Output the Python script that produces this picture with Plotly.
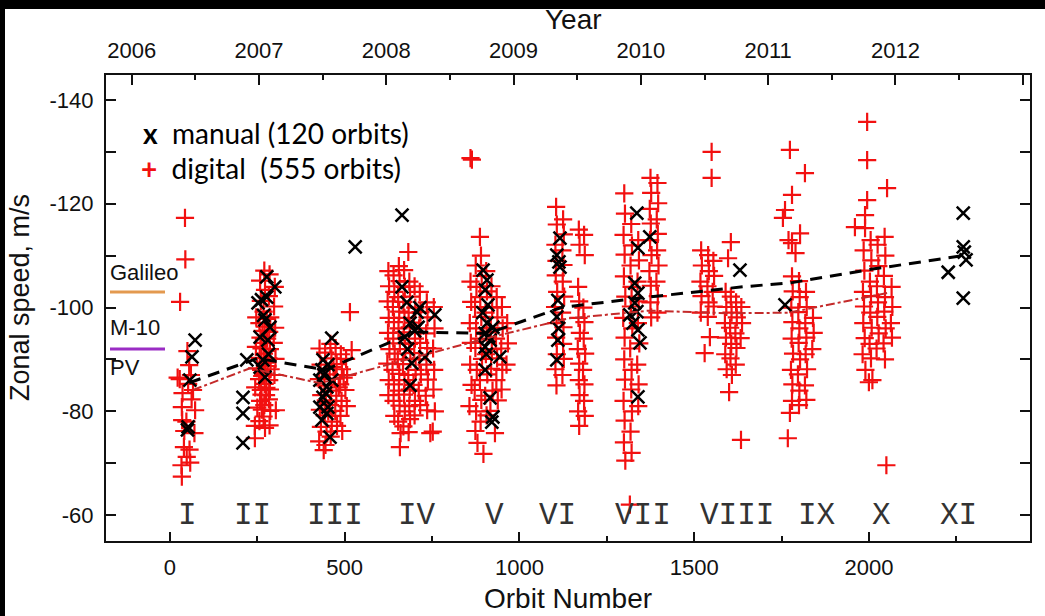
import plotly.graph_objects as go

# ---------------- data ----------------
# digital measurements (red +): orbit number, zonal speed (m/s)
digital_orbit = [
    # I
    43, 44, 29, 28, 55, 60, 36, 34, 72, 35, 70, 40, 56, 48, 58, 33, 34, 52, 22, 66, 47, 62, 50, 41,
    # II
    247, 246, 249, 244, 250, 243, 243,
    258, 260, 256, 259, 262, 257, 261, 255, 260, 258, 263, 256,
    270, 272, 268, 271, 274, 269, 273, 267, 271, 275, 270, 268, 272,
    285, 283, 287, 284, 286, 282, 288, 284, 286, 283, 287, 285,
    300, 298, 301, 297, 302, 299, 303,
    265, 278, 264, 279, 276, 262, 277,
    # III
    428, 431, 426, 433, 429, 432, 427,
    444, 447, 442, 446, 443, 448, 445, 440,
    459, 462, 457, 461, 458, 463, 460,
    474, 477, 472, 476, 473, 478,
    489, 492, 487, 491, 488, 493,
    504, 507, 502, 506,
    515, 520, 468, 483, 453, 497,
    # IV
    625, 627, 623, 626, 624, 628, 622, 626, 625,
    640, 642, 638, 641, 639, 643, 637, 641, 640, 642,
    655, 657, 653, 656, 654, 658, 652, 656, 655, 657, 653,
    670, 672, 668, 671, 669, 673, 667, 671, 670, 672, 668,
    685, 687, 683, 686, 684, 688, 682, 686, 685, 687, 683,
    700, 702, 698, 701, 699, 703, 697, 701, 700,
    715, 717, 713, 716, 714, 718, 712, 716,
    735, 737, 733, 736, 734, 738, 732, 736,
    755, 757, 753, 756, 754, 758, 752,
    682, 660, 658, 745,
    # V
    860, 864, 887,
    860, 862, 858, 861, 859, 863, 857,
    875, 877, 873, 876, 874, 878, 872, 876, 874,
    890, 892, 888, 891, 889, 893, 887, 891, 889,
    905, 907, 903, 906, 904, 908, 902, 906,
    920, 922, 918, 921, 919, 923, 917,
    935, 937, 933, 936, 934, 938,
    950, 952, 948, 951, 949,
    965, 967, 963,
    880, 930, 897,
    # VI
    1105, 1107, 1103, 1106, 1104, 1108, 1102, 1106, 1105, 1107, 1103, 1106,
    1125, 1127, 1123, 1126, 1124, 1128, 1122, 1126, 1125, 1127, 1123,
    1170, 1172, 1168, 1171, 1169, 1173, 1167, 1171, 1170, 1172, 1168, 1171,
    1185, 1187, 1183, 1186, 1184, 1188, 1182, 1186, 1185, 1187,
    # VII
    1300, 1302, 1298, 1301, 1299, 1303, 1297, 1301, 1300, 1302, 1298, 1301, 1299, 1303,
    1320, 1322, 1318, 1321, 1319, 1323, 1317, 1321, 1320, 1322, 1318, 1321,
    1340, 1342, 1338, 1341, 1339, 1343, 1337, 1341, 1340,
    1375, 1377, 1373, 1376, 1374, 1378, 1372, 1376, 1375, 1377,
    1395, 1397, 1393, 1396, 1394, 1398, 1392, 1396, 1395,
    1316,
    # VIII
    1550, 1550,
    1520, 1522, 1518, 1521, 1519,
    1540, 1542, 1538, 1541, 1539,
    1555, 1557, 1553, 1556,
    1545, 1530,
    1590, 1592, 1588, 1591, 1589, 1593,
    1605, 1607, 1603, 1606, 1604, 1608,
    1620, 1622, 1618, 1621, 1619,
    1635, 1637, 1633,
    1605, 1597, 1600, 1634,
    # IX
    1774, 1817, 1780, 1760, 1754, 1803, 1780, 1790, 1770,
    1780, 1782, 1778, 1781, 1779, 1783, 1777, 1781, 1780,
    1800, 1802, 1798, 1801, 1799, 1803, 1797, 1801, 1800,
    1820, 1822, 1818, 1821, 1819, 1823, 1817, 1821,
    1840, 1842, 1838,
    1774, 1768,
    # X
    1995, 1995, 2052, 1995, 1989, 1960, 1989,
    1985, 1987, 1983, 1986, 1984, 1988, 1982,
    2005, 2007, 2003, 2006, 2004, 2008, 2002, 2006,
    2025, 2027, 2023, 2026, 2024, 2028, 2022,
    2045, 2047, 2043, 2046, 2044, 2048, 2042, 2046,
    2065, 2067, 2063, 2066,
    2000, 2050, 1990, 2010,
]
digital_speed = [
    # I
    -117.3, -109.3, -101.1, -86.2, -88.9, -87.0, -83.5, -80.8, -80.2, -78.3, -75.8, -73.1, -72.6, -71.2,
    -70.1, -69.6, -67.4, -85.3, -86.5, -84.1, -78.0, -82.3, -91.6, -76.2,
    # II
    -98.1, -92.4, -88.3, -84.6, -80.7, -77.2, -74.8,
    -105.2, -101.3, -97.0, -94.2, -92.1, -90.3, -88.0, -86.2, -84.1, -82.0, -80.3, -78.1,
    -107.1, -103.4, -99.2, -96.3, -93.2, -91.1, -89.4, -87.2, -85.3, -83.1, -81.2, -79.0, -76.8,
    -106.4, -102.2, -98.1, -95.3, -92.0, -90.2, -88.1, -86.0, -84.2, -82.3, -80.1, -77.3,
    -104.0, -100.2, -96.1, -93.2, -90.1, -87.0, -80.2,
    -95.5, -94.0, -86.8, -88.7, -84.5, -83.2, -97.8,
    # III
    -92.1, -89.0, -86.2, -83.1, -80.3, -77.0, -74.2,
    -91.3, -88.2, -85.0, -82.1, -79.2, -76.1, -73.5, -72.5,
    -93.0, -90.2, -87.1, -84.0, -81.2, -78.0, -75.1,
    -92.2, -89.1, -86.3, -83.0, -80.1, -77.2,
    -91.0, -88.1, -85.2, -82.0, -79.1, -76.2,
    -90.1, -87.0, -84.1, -81.0,
    -99.1, -91.8, -88.5, -84.6, -80.0, -86.5,
    # IV
    -107.0, -104.1, -101.2, -98.0, -95.1, -92.0, -89.2, -86.0, -83.1,
    -106.2, -103.0, -100.1, -97.2, -94.0, -91.1, -88.0, -85.2, -82.0, -79.1,
    -108.0, -105.1, -102.0, -99.2, -96.0, -93.1, -90.0, -87.2, -84.0, -81.1, -78.0,
    -107.2, -104.0, -101.1, -98.0, -95.2, -92.0, -89.1, -86.0, -83.2, -80.0, -77.1,
    -105.0, -102.1, -99.0, -96.2, -93.0, -90.1, -87.0, -84.2, -81.0, -78.5, -76.0,
    -104.1, -100.0, -97.1, -94.0, -91.2, -88.0, -85.1, -82.0, -79.2,
    -103.0, -99.1, -96.0, -93.2, -90.0, -87.1, -84.0, -81.2,
    -101.0, -98.1, -95.0, -92.2, -89.0, -86.1, -83.0, -80.2,
    -100.1, -96.0, -92.1, -88.0, -84.2, -80.0, -76.1,
    -110.7, -75.8, -73.1, -75.8,
    # V
    -128.8, -128.5, -113.6,
    -105.0, -101.1, -97.0, -93.2, -89.0, -85.1, -81.0,
    -108.1, -104.0, -100.1, -96.0, -92.2, -88.0, -84.1, -80.0, -76.2,
    -110.0, -106.1, -102.0, -98.2, -94.0, -90.1, -86.0, -82.2, -78.0,
    -107.0, -103.1, -99.0, -95.2, -91.0, -87.1, -83.0, -79.2,
    -104.1, -100.0, -96.1, -92.0, -88.2, -84.0, -80.1,
    -102.0, -98.1, -94.0, -90.2, -86.0, -82.1,
    -100.1, -96.0, -92.1, -88.0, -84.2,
    -97.0, -93.1, -89.0,
    -73.9, -75.8, -71.8,
    # VI
    -119.4, -116.0, -112.1, -109.0, -106.2, -103.0, -100.1, -97.0, -94.2, -91.0, -88.1, -85.0,
    -117.0, -114.1, -111.0, -108.2, -105.0, -102.1, -99.0, -96.2, -93.0, -90.1, -87.0,
    -115.0, -112.1, -104.0, -101.2, -98.0, -95.1, -92.0, -89.2, -86.0, -83.1, -80.0, -77.2,
    -114.0, -110.1, -100.0, -97.2, -94.0, -91.1, -88.0, -85.2, -82.0, -79.1,
    # VII
    -122.0, -118.1, -114.0, -110.2, -106.0, -102.1, -98.0, -94.2, -90.0, -86.1, -82.0, -78.2, -74.0, -70.5,
    -116.1, -112.0, -108.1, -104.0, -100.2, -96.0, -92.1, -88.0, -84.2, -80.0, -76.1, -72.0,
    -113.0, -109.1, -105.0, -101.2, -97.0, -93.1, -89.0, -85.2, -81.0,
    -125.0, -122.1, -119.0, -116.2, -113.0, -110.1, -107.0, -104.2, -101.0, -98.1,
    -124.0, -120.1, -117.0, -114.2, -111.0, -108.1, -105.0, -102.2, -99.0,
    -62.0,
    # VIII
    -130.0, -125.0,
    -111.0, -108.1, -105.0, -102.2, -99.0,
    -110.1, -107.0, -104.1, -101.0, -98.2,
    -109.0, -106.1, -103.0, -100.2,
    -94.3, -91.2,
    -103.0, -100.1, -97.0, -94.2, -91.0, -88.1,
    -102.1, -99.0, -96.1, -93.0, -90.2, -87.0,
    -101.0, -98.1, -95.0, -92.2, -89.0,
    -100.1, -97.0, -94.1,
    -112.6, -109.5, -83.7, -74.5,
    # IX
    -130.4, -125.9, -121.7, -118.8, -117.3, -114.3, -112.4, -110.5, -113.0,
    -106.0, -103.1, -100.0, -97.2, -94.0, -91.1, -88.0, -85.2, -82.0,
    -105.1, -102.0, -99.1, -96.0, -93.2, -90.0, -87.1, -84.0, -81.2,
    -103.0, -100.1, -97.0, -94.2, -91.0, -88.1, -85.0, -82.2,
    -98.0, -95.1, -92.0,
    -79.7, -74.8,
    # X
    -135.8, -128.4, -123.0, -120.7, -117.8, -115.5, -115.3,
    -111.0, -107.1, -103.0, -100.2, -97.0, -94.1, -91.0,
    -113.0, -109.1, -105.0, -102.2, -99.0, -96.1, -93.0, -90.2,
    -112.1, -108.0, -104.1, -101.0, -98.2, -95.0, -92.1,
    -113.6, -110.0, -106.1, -102.0, -99.2, -96.0, -93.1, -90.0,
    -104.0, -100.1, -97.0, -94.2,
    -85.6, -69.6, -88.0, -86.0,
]

# manual measurements (black x)
manual_orbit = [
    72, 63, 57, 52, 50,
    209, 209, 209, 220, 277, 300, 252, 277, 272, 258, 280, 258, 272, 266, 286, 262, 268, 282,
    463, 438, 435, 429, 449, 438, 429, 449, 435, 458, 452, 463, 452, 530, 445, 440,
    664, 664, 678, 707, 758, 687, 710, 672, 692, 730, 687, 700, 680, 715,
    896, 907, 902, 910, 907, 924, 902, 916, 902, 944, 902, 916, 924, 921, 895, 912, 905,
    1116, 1107, 1116, 1110, 1107, 1110, 1107, 1113, 1112,
    1336, 1373, 1339, 1330, 1339, 1330, 1336, 1316, 1339, 1345, 1339, 1325,
    1631,
    1760,
    2227, 2270, 2270, 2273, 2278, 2270,
]
manual_speed = [
    -93.7, -90.5, -86.0, -77.0, -76.4,
    -82.7, -79.6, -73.9, -89.9, -105.9, -104.0, -100.9, -102.0, -97.6, -94.3, -93.7, -88.5, -86.6, -89.9,
    -96.2, -101.5, -98.5, -91.0,
    -94.1, -89.9, -88.0, -86.0, -84.7, -82.7, -80.8, -79.6, -78.3, -75.0, -89.0, -86.0, -80.8, -111.7,
    -83.5, -87.0,
    -117.8, -104.0, -101.0, -99.1, -98.6, -97.0, -96.2, -94.3, -89.3, -90.5, -85.0, -95.5, -92.0, -100.0,
    -107.2, -105.3, -103.4, -100.5, -97.0, -96.2, -95.0, -93.7, -92.4, -90.5, -88.0, -82.6, -78.9, -77.9,
    -99.0, -94.5, -91.0,
    -113.4, -110.1, -107.8, -101.4, -98.2, -93.7, -89.9, -108.8, -96.0,
    -118.2, -113.6, -111.5, -104.7, -102.8, -100.9, -99.2, -98.6, -95.7, -93.2, -82.8, -97.0,
    -107.2,
    -100.5,
    -106.8, -118.2, -111.7, -110.7, -109.2, -101.8,
]

# mean trend lines
manual_mean_orbit = [55, 250, 444, 700, 910, 1120, 1340, 1640, 1780, 2000, 2270]
manual_mean_speed = [-85.5, -90.2, -88.0, -95.3, -95.0, -100.0, -101.8, -104.0, -104.8, -107.3, -110.0]
digital_mean_orbit = [66, 229, 430, 700, 920, 1140, 1370, 1600, 1770, 2052]
digital_mean_speed = [-84.1, -88.3, -85.4, -90.4, -94.3, -97.9, -99.4, -98.9, -99.0, -102.8]

# observation periods (roman numerals)
period_labels = ["I", "II", "III", "IV", "V", "VI", "VII", "VIII", "IX", "X", "XI"]
period_orbit = [49, 235, 472, 707, 930, 1108, 1354, 1623, 1852, 2035, 2255]

# reference speeds from earlier missions
ref_speed = [-103.0, -92.0]
ref_colors = ["#e3994f", "#9a2cc4"]

x_ticks = [0, 500, 1000, 1500, 2000]
y_ticks = [-140, -120, -100, -80, -60]
year_ticks = [2006, 2007, 2008, 2009, 2010, 2011, 2012, 2013]

# ---------------- layout geometry ----------------
W, H = 1045, 616
ML, MR, MT, MB = 106, 15, 75, 75
PW, PH = W - ML - MR, H - MT - MB


def px_x(px):
    return (px - ML) / PW


def px_y(py):
    return (H - MB - py) / PH


SANS = "Liberation Sans"
AX_FONT = dict(family=SANS, size=22, color="#111")

fig = go.Figure()

fig.add_trace(go.Scatter(
    x=digital_orbit, y=digital_speed, mode="markers", showlegend=False,
    marker=dict(symbol="cross-thin", size=13, line=dict(width=2.2, color="#f21010")),
    hoverinfo="skip"))
fig.add_trace(go.Scatter(
    x=manual_orbit, y=manual_speed, mode="markers", showlegend=False,
    marker=dict(symbol="x-thin", size=13, line=dict(width=2.5, color="#000")),
    hoverinfo="skip"))
fig.add_trace(go.Scatter(
    x=digital_mean_orbit, y=digital_mean_speed, mode="lines", showlegend=False,
    line=dict(color="#c42a2a", width=2, dash="dashdot"), hoverinfo="skip"))
fig.add_trace(go.Scatter(
    x=manual_mean_orbit, y=manual_mean_speed, mode="lines", showlegend=False,
    line=dict(color="#000", width=3, dash="12px,8px"), hoverinfo="skip"))
# invisible trace to activate the top (year) axis
fig.add_trace(go.Scatter(x=[year_ticks[0]], y=[-100], xaxis="x2", mode="markers",
                         marker=dict(opacity=0), showlegend=False, hoverinfo="skip"))

# reference lines (Galileo / M-10 / PV)
for sp, col in zip(ref_speed, ref_colors):
    fig.add_shape(type="line", xref="paper", yref="y", x0=px_x(110), x1=px_x(165),
                  y0=sp, y1=sp, line=dict(color=col, width=3))

annotations = []
for lab, xo in zip(period_labels, period_orbit):
    annotations.append(dict(x=xo, y=-60, xref="x", yref="y", text=lab, showarrow=False,
                            font=dict(family="Liberation Mono", size=31, color="#333",
                                      weight=300),
                            xanchor="center", yanchor="middle"))

for txt, py in [("Galileo", 272), ("M-10", 327), ("PV", 367)]:
    annotations.append(dict(x=px_x(108), y=px_y(py), xref="paper", yref="paper", text=txt,
                            showarrow=False, xanchor="left", yanchor="middle",
                            font=dict(family=SANS, size=22, color="#111")))

LEG_FONT = dict(family="Lato", size=28, color="#000")
annotations.append(dict(x=px_x(141), y=px_y(133), xref="paper", yref="paper",
                        text="<b>x</b>  manual (120 orbits)", showarrow=False,
                        xanchor="left", yanchor="middle", font=LEG_FONT))
annotations.append(dict(x=px_x(139), y=px_y(168), xref="paper", yref="paper",
                        text="<span style='color:#f21010'><b>+</b></span>  digital  (555 orbits)",
                        showarrow=False, xanchor="left", yanchor="middle", font=LEG_FONT))

# axis titles
TITLE_FONT = dict(family=SANS, size=28, color="#111")
annotations.append(dict(x=px_x(573), y=px_y(19), xref="paper", yref="paper", text="Year",
                        showarrow=False, xanchor="center", yanchor="middle", font=TITLE_FONT))
annotations.append(dict(x=px_x(568), y=px_y(598), xref="paper", yref="paper", text="Orbit Number",
                        showarrow=False, xanchor="center", yanchor="middle", font=TITLE_FONT))
annotations.append(dict(x=px_x(20), y=px_y(298), xref="paper", yref="paper",
                        text="Zonal speed, m/s", textangle=-90,
                        showarrow=False, xanchor="center", yanchor="middle",
                        font=dict(family=SANS, size=27, color="#111")))

# black border strips (top and left) of the original picture
fig.add_shape(type="rect", xref="paper", yref="paper", x0=px_x(-5), x1=px_x(5),
              y0=px_y(H + 5), y1=px_y(-5), fillcolor="black", line=dict(width=0), layer="below")
fig.add_shape(type="rect", xref="paper", yref="paper", x0=px_x(-5), x1=px_x(W + 5),
              y0=px_y(9), y1=px_y(-5), fillcolor="black", line=dict(width=0), layer="below")

fig.update_layout(
    width=W, height=H, autosize=False,
    margin=dict(l=ML, r=MR, t=MT, b=MB),
    paper_bgcolor="white", plot_bgcolor="white",
    font=dict(family=SANS),
    annotations=annotations,
    xaxis=dict(range=[-183, 2461], tickvals=x_ticks, ticktext=[str(v) for v in x_ticks],
               ticks="inside", ticklen=9, tickwidth=2, tickcolor="#111",
               minor=dict(dtick=250, tick0=0, ticks="inside", ticklen=5, tickwidth=2,
                          tickcolor="#111", showgrid=False),
               showline=True, linecolor="#111", linewidth=2, mirror=True,
               showgrid=False, zeroline=False, tickfont=AX_FONT, ticklabelstandoff=6),
    xaxis2=dict(overlaying="x", side="top", anchor="y",
                range=[2005.798, 2013.057], tickvals=year_ticks,
                ticktext=[str(v) for v in year_ticks],
                ticks="inside", ticklen=10, tickwidth=2, tickcolor="#111",
                minor=dict(dtick=0.5, tick0=2006, ticks="inside", ticklen=5, tickwidth=2,
                           tickcolor="#111", showgrid=False),
                showline=True, linecolor="#111", linewidth=2,
                showgrid=False, zeroline=False, tickfont=AX_FONT, ticklabelstandoff=6),
    yaxis=dict(range=[-55.0, -144.82], tickvals=y_ticks, ticktext=[str(v) for v in y_ticks],
               ticks="inside", ticklen=10, tickwidth=2, tickcolor="#111",
               minor=dict(dtick=10, tick0=0, ticks="inside", ticklen=6, tickwidth=2,
                          tickcolor="#111", showgrid=False),
               showline=True, linecolor="#111", linewidth=2, mirror="allticks",
               showgrid=False, zeroline=False, tickfont=AX_FONT, ticklabelstandoff=6),
)

fig.write_html("out.html")
